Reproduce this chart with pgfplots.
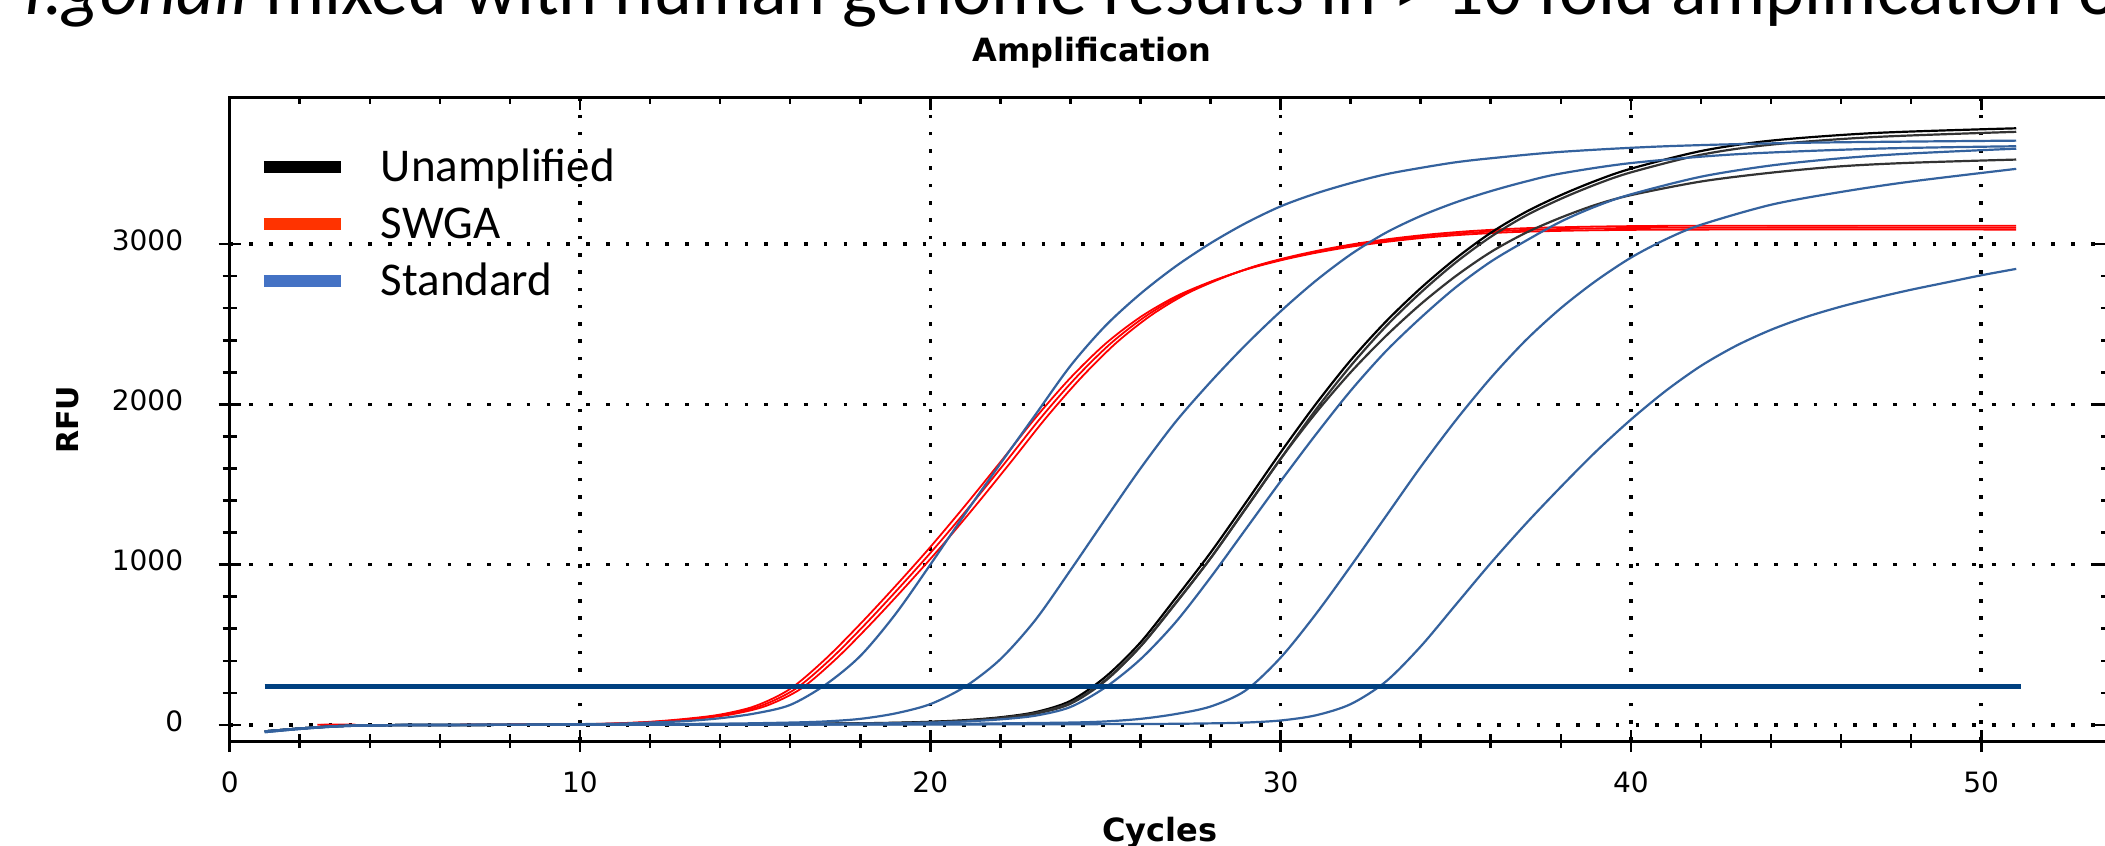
\documentclass[border=0pt]{standalone}
\usepackage{fontspec}
\setmainfont{DejaVu Sans}
\newfontfamily\carlito{Carlito}
\usepackage{pgfplots}
\pgfplotsset{compat=1.18}
\definecolor{stdblue}{RGB}{52,98,158}
\definecolor{thrblue}{RGB}{0,64,128}
\definecolor{legred}{RGB}{255,51,0}
\definecolor{legblue}{RGB}{68,114,196}

\begin{document}
\begin{tikzpicture}
\path[use as bounding box, clip] (-114.85pt,-52.5pt) rectangle (937.65pt,370.5pt);
\fill[white] (-114.85pt,-52.5pt) rectangle (937.65pt,370.5pt);

\begin{axis}[
  scale only axis, width=938.8pt, height=321.5pt,
  xmin=0, xmax=53.6, ymin=-100, ymax=3911,
  xtick={0,10,...,50}, ytick={0,1000,2000,3000},
  minor x tick num=4, minor y tick num=4,
  xtick pos=left, ytick pos=left,
  tick align=center,
  major tick length=11pt, minor tick length=7pt,
  every tick/.style={black, line width=1.3pt},
  axis line style={line width=1.5pt},
  grid=major,
  x grid style={black, line width=1.8pt, dash pattern=on 1.8pt off 6.85pt},
  y grid style={black, line width=1.8pt, dash pattern=on 1.8pt off 8.1pt},
  /pgf/number format/assume math mode=true,
  /pgf/number format/1000 sep={},
  xticklabel style={font=\fontsize{14}{16}\selectfont, anchor=north, inner sep=0pt, yshift=-9.8pt},
  yticklabel style={font=\fontsize{14}{16}\selectfont, anchor=east, inner sep=0pt, xshift=-17.6pt, yshift=2pt},
  legend style={draw=none, fill=none, at={(axis description cs:0.015,0.921)}, anchor=north west,
    inner sep=0pt, outer sep=0pt, row sep=6.85pt,
    font=\carlito\fontsize{23.5}{28}\selectfont,
    nodes={inner sep=0pt, text height=16.5pt, text depth=5pt},
    /tikz/every odd column/.append style={column sep=17pt}},
  legend cell align=left,
  legend image code/.code={\draw[#1] (0pt,1.5pt) -- (38.5pt,1.5pt);},
]
% SWGA
\addplot[red, line width=0.9pt, smooth, forget plot] coordinates {(2.5,2)(4,0)(6,0)(8,2)(10,5)(11,10)(12,20)(13,38)(14,65)(15,118)(16,225)(17,410)(18,630)(19,865)(20,1110)(21,1370)(22,1640)(23,1915)(24,2165)(25,2378)(26,2545)(27,2672)(28,2765)(29,2840)(30,2898)(31,2945)(32,2983)(33,3013)(34,3037)(35,3055)(36,3068)(37,3077)(39,3086)(42,3090)(51,3090)};
\addplot[red, line width=0.9pt, smooth, forget plot] coordinates {(2.6,2)(4,0)(6,0)(8,2)(10.15,5)(11.15,10)(12.15,20)(13.15,38)(14.15,65)(15.15,118)(16.15,225)(17.15,410)(18.15,630)(19.15,865)(20.15,1110)(21.15,1370)(22.15,1640)(23.15,1915)(24.15,2165)(25.15,2380)(26.15,2550)(27.15,2680)(28.15,2775)(29.15,2852)(30.15,2910)(31.15,2957)(32.15,2995)(33.15,3025)(34.15,3049)(35.15,3067)(36.15,3080)(37.15,3089)(39.15,3098)(42,3102)(51,3102)};
\addplot[red, line width=0.9pt, smooth, forget plot] coordinates {(2.7,2)(4,0)(6,0)(8,2)(10.3,5)(11.3,10)(12.3,20)(13.3,38)(14.3,65)(15.3,118)(16.3,225)(17.3,410)(18.3,630)(19.3,865)(20.3,1110)(21.3,1370)(22.3,1640)(23.3,1915)(24.3,2165)(25.3,2382)(26.3,2555)(27.3,2688)(28.3,2785)(29.3,2864)(30.3,2922)(31.3,2969)(32.3,3007)(33.3,3037)(34.3,3061)(35.3,3079)(36.3,3092)(37.3,3101)(39.3,3110)(42,3114)(51,3114)};
% Unamplified
\addplot[black, line width=1.1pt, smooth, forget plot] coordinates {(1,-40)(2,-22)(3,-8)(4,-2)(6,0)(12,2)(17,8)(19,14)(20,20)(21,30)(22,48)(23,80)(24,150)(25,300)(26,515)(27,790)(28,1075)(29,1385)(30,1700)(31,2000)(32,2275)(33,2515)(34,2725)(35,2910)(36,3070)(37,3200)(38,3305)(39,3395)(40,3470)(42,3580)(44,3645)(47,3693)(51,3722)};
\addplot[black!80, line width=1.1pt, smooth, forget plot] coordinates {(1,-40)(2,-22)(3,-8)(4,-2)(6,0)(12,2)(17,7)(19,12)(20,18)(21,27)(22,45)(23,75)(24,138)(25,280)(26,490)(27,757)(28,1040)(29,1348)(30,1660)(31,1965)(32,2240)(33,2485)(34,2697)(35,2885)(36,3045)(37,3177)(38,3282)(39,3372)(40,3447)(42,3557)(44,3620)(47,3668)(51,3700)};
\addplot[black!80, line width=1.1pt, smooth, forget plot] coordinates {(1,-40)(2,-22)(3,-8)(4,-2)(6,0)(12,2)(17,7)(19,11)(20,16)(21,25)(22,42)(23,70)(24,132)(25,275)(26,490)(27,760)(28,1040)(29,1350)(30,1660)(31,1945)(32,2200)(33,2425)(34,2625)(35,2800)(36,2950)(37,3070)(38,3165)(39,3245)(40,3305)(42,3390)(44,3445)(46,3485)(48,3507)(51,3527)};
% Standard
\addplot[stdblue, line width=1.1pt, smooth, forget plot] coordinates {(1,-40)(2,-22)(3,-8)(4,-2)(6,0)(9,3)(11,8)(12,15)(13,24)(14,42)(15,72)(16,125)(17,250)(18,430)(19,690)(20,1000)(21,1320)(22,1630)(23,1935)(24,2240)(25,2490)(26,2690)(27,2860)(28,3005)(29,3130)(30,3235)(31,3315)(32,3380)(33,3435)(34,3475)(35,3510)(36,3535)(38,3575)(41,3610)(45,3632)(51,3645)};
\addplot[stdblue, line width=1.1pt, smooth, forget plot] coordinates {(1,-40)(2,-22)(3,-8)(4,-2)(6,0)(10,3)(14,8)(16,15)(17,22)(18,38)(19,72)(20,130)(21,240)(22,410)(23,655)(24,965)(25,1285)(26,1600)(27,1890)(28,2140)(29,2370)(30,2580)(31,2770)(32,2935)(33,3070)(34,3175)(35,3260)(36,3330)(37,3390)(38,3440)(40,3505)(43,3560)(47,3595)(51,3610)};
\addplot[stdblue, line width=1.1pt, smooth, forget plot] coordinates {(1,-40)(2,-22)(3,-8)(4,-2)(6,0)(12,2)(17,7)(19,11)(20,15)(21,22)(22,35)(23,58)(24,112)(25,235)(26,410)(27,640)(28,920)(29,1220)(30,1520)(31,1810)(32,2085)(33,2330)(34,2540)(35,2730)(36,2890)(37,3020)(38,3140)(39,3235)(40,3310)(42,3420)(44,3490)(46,3535)(48,3565)(51,3595)};
\addplot[stdblue, line width=1.1pt, smooth, forget plot] coordinates {(1,-45)(2,-25)(3,-10)(4,-3)(6,0)(15,2)(20,6)(22,10)(24,15)(25,22)(26,38)(27,68)(28,115)(29,215)(30,420)(31,690)(32,990)(33,1300)(34,1610)(35,1900)(36,2165)(37,2400)(38,2600)(39,2770)(40,2915)(41,3030)(42,3120)(44,3245)(46,3325)(48,3390)(51,3469)};
\addplot[stdblue, line width=1.1pt, smooth, forget plot] coordinates {(1,-45)(2,-25)(3,-10)(4,-3)(6,0)(20,3)(26,6)(28,10)(29,15)(30,28)(31,60)(32,130)(33,270)(34,490)(35,750)(36,1010)(37,1255)(38,1485)(39,1705)(40,1905)(41,2085)(42,2240)(43,2365)(44,2465)(45,2545)(46,2610)(47,2665)(48,2715)(49,2760)(50,2805)(51,2845)};
% threshold
\addplot[thrblue, line width=2.65pt, forget plot] coordinates {(1,240)(51.15,240)};
% legend
\addlegendimage{black, line width=6pt}
\addlegendentry{Unamplified}
\addlegendimage{legred, line width=6pt}
\addlegendentry{SWGA}
\addlegendimage{legblue, line width=6pt}
\addlegendentry{Standard}
\end{axis}

\begin{axis}[
  scale only axis, width=938.8pt, height=321.5pt,
  xmin=0, xmax=53.6, ymin=-100, ymax=3911,
  axis x line*=top, axis y line*=right,
  axis line style={line width=1.5pt},
  xtick={0,10,...,50}, ytick={0,1000,2000,3000},
  minor x tick num=4, minor y tick num=4,
  tick align=inside, major tick length=6pt, minor tick length=3pt,
  every tick/.style={black, line width=1.3pt},
  xticklabels={}, yticklabels={},
]
\end{axis}

\node[anchor=base west, inner sep=0pt] at (-107.35pt,363pt) {\carlito\fontsize{37}{44}\selectfont\textit{T.gondii} mixed with human genome results in > 10 fold amplification of};
\node[anchor=base, inner sep=0pt] at (431.15pt,339.65pt) {\fontsize{16}{19}\selectfont\bfseries Amplification};
\node[anchor=base, inner sep=0pt] at (465.15pt,-50pt) {\fontsize{16}{19}\selectfont\bfseries Cycles};
\node[rotate=90, inner sep=0pt] at (-80.85pt,160.5pt) {\fontsize{15}{18}\selectfont\bfseries RFU};
\end{tikzpicture}
\end{document}
